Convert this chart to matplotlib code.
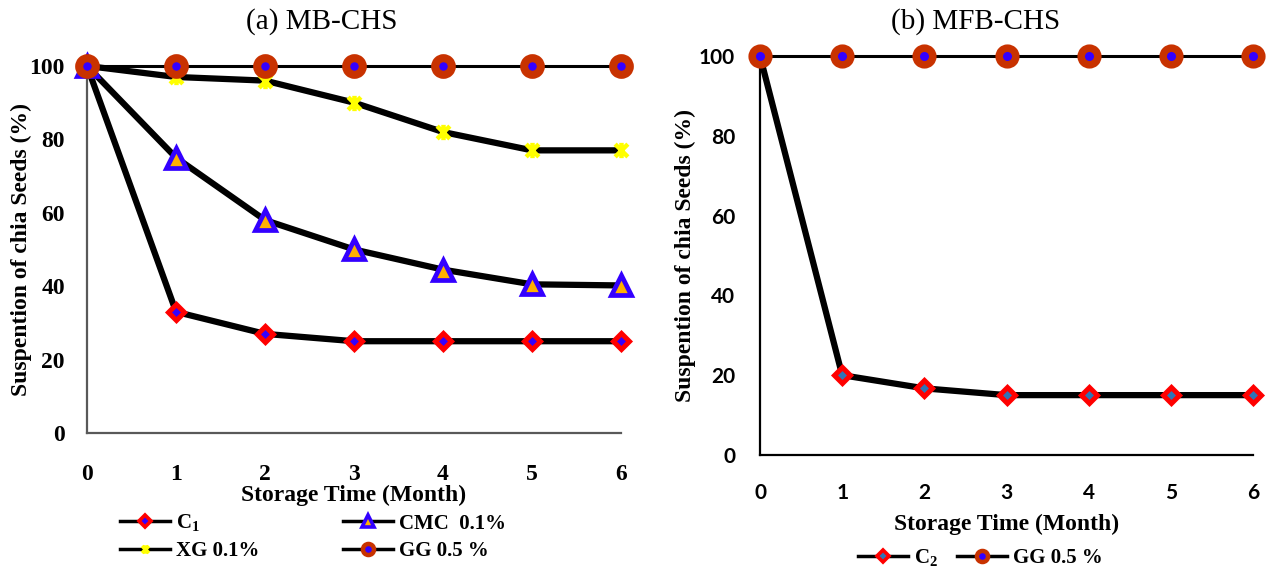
import matplotlib.pyplot as plt
from matplotlib.path import Path
from matplotlib.lines import Line2D

plt.rcParams['font.family'] = ['Liberation Serif', 'DejaVu Serif']
plt.rcParams['mathtext.fontset'] = 'custom'
plt.rcParams['mathtext.rm'] = 'Liberation Serif:bold'
plt.rcParams['mathtext.bf'] = 'Liberation Serif:bold'

months = [0, 1, 2, 3, 4, 5, 6]

# (a) MB-CHS
c1 = [100, 33, 27, 25, 25, 25, 25]
cmc = [100, 75, 58, 50, 44.5, 40.5, 40.2]
xg = [100, 97, 96, 90, 82, 77, 77]
gg_a = [100, 100, 100, 100, 100, 100, 100]

# (b) MFB-CHS
c2 = [100, 20, 16.7, 15, 15, 15, 15]
gg_b = [100, 100, 100, 100, 100, 100, 100]

yticks = [0, 20, 40, 60, 80, 100]

# excel-like star marker: X plus vertical bar
star = Path([(-1, -1), (1, 1), (-1, 1), (1, -1), (0, -1.2), (0, 1.2)],
            [Path.MOVETO, Path.LINETO, Path.MOVETO, Path.LINETO, Path.MOVETO, Path.LINETO])

blue = '#3300FF'
red = '#FF0000'
brown = '#C83200'
orange = '#FFB000'
yellow = '#FFFF00'

fig = plt.figure(figsize=(12.69, 5.70), dpi=100)

# ---------- left panel ----------
ax1 = fig.add_axes([0.0686, 0.2404, 0.4208, 0.6439])
ax1.plot(months, c1, color='k', lw=4.5, marker='D', ms=8, mfc=blue, mec=red, mew=3.6,
         clip_on=False, zorder=3)
ax1.plot(months, cmc, color='k', lw=4.5, marker='^', ms=14, mfc=orange, mec=blue, mew=3.4,
         clip_on=False, zorder=3)
ax1.plot(months, xg, color='k', lw=4.5, marker=star, ms=11, mfc='none', mec=yellow, mew=3.2,
         clip_on=False, zorder=3)
ax1.plot(months, gg_a, color='k', lw=2.2, marker='o', ms=12, mfc=blue, mec=brown, mew=5.8,
         clip_on=False, zorder=4)
ax1.set_xlim(0, 6)
ax1.set_ylim(0, 100)
ax1.set_xticks(months)
ax1.set_yticks(yticks)
for s in ['top', 'right']:
    ax1.spines[s].set_visible(False)
for s in ['left', 'bottom']:
    ax1.spines[s].set_color('#595959')
    ax1.spines[s].set_linewidth(1.6)
ax1.tick_params(axis='x', length=0, pad=22, labelsize=17)
ax1.tick_params(axis='y', length=0, pad=16, labelsize=17)
for lb in ax1.get_xticklabels() + ax1.get_yticklabels():
    lb.set_fontweight('bold')
ax1.set_xlabel('Storage Time (Month)', fontsize=17, fontweight='bold', labelpad=0)
ax1.set_ylabel('Suspention of chia Seeds (%)', fontsize=17, fontweight='bold', labelpad=-2)
fig.text(322 / 1269, 1 - 22 / 570, '(a) MB-CHS', fontsize=21, ha='center', va='center')

# legend proxies (column-major order for 2 columns)
h_c1 = Line2D([], [], color='k', lw=2.5, marker='D', ms=6, mfc=blue, mec=red, mew=2.6)
h_cmc = Line2D([], [], color='k', lw=2.5, marker='^', ms=9, mfc=orange, mec=blue, mew=2.6)
h_xg = Line2D([], [], color='k', lw=2.5, marker=star, ms=6, mfc='none', mec=yellow, mew=2.6)
h_gga = Line2D([], [], color='k', lw=2.5, marker='o', ms=8, mfc=blue, mec=brown, mew=3.2)
fig.legend(handles=[h_c1, h_xg, h_cmc, h_gga], labels=['C$_1$', 'XG 0.1%', 'CMC  0.1%', 'GG 0.5 %'],
           loc='center left', ncol=2, frameon=False,
           bbox_to_anchor=(120 / 1269, 1 - 537 / 570), prop={'size': 15, 'weight': 'bold'},
           handlelength=2.4, handletextpad=0.3, columnspacing=4.0,
           labelspacing=0.35, borderaxespad=0, borderpad=0)

# ---------- right panel ----------
ax2 = fig.add_axes([0.5989, 0.2018, 0.3885, 0.7])
ax2.plot(months, c2, color='k', lw=4.5, marker='D', ms=8, mfc='#2E75B6', mec=red, mew=3.6,
         clip_on=False, zorder=3)
ax2.plot(months, gg_b, color='k', lw=2.2, marker='o', ms=12, mfc=blue, mec=brown, mew=5.4,
         clip_on=False, zorder=4)
ax2.set_xlim(0, 6)
ax2.set_ylim(0, 100)
ax2.set_xticks(months)
ax2.set_yticks(yticks)
for s in ['top', 'right']:
    ax2.spines[s].set_visible(False)
for s in ['left', 'bottom']:
    ax2.spines[s].set_color('k')
    ax2.spines[s].set_linewidth(1.6)
ax2.tick_params(axis='x', length=0, pad=20, labelsize=15)
ax2.tick_params(axis='y', length=0, pad=18, labelsize=15)
for lb in ax2.get_xticklabels() + ax2.get_yticklabels():
    lb.set_fontweight('bold')
    lb.set_family('Lato')
ax2.set_xlabel('Storage Time (Month)', fontsize=17, fontweight='bold', labelpad=8)
ax2.set_ylabel('Suspention of chia Seeds (%)', fontsize=17, fontweight='bold', labelpad=2)
fig.text(976 / 1269, 1 - 22 / 570, '(b) MFB-CHS', fontsize=21, ha='center', va='center')

h_c2 = Line2D([], [], color='k', lw=2.5, marker='D', ms=6, mfc='#2E75B6', mec=red, mew=2.6)
h_ggb = Line2D([], [], color='k', lw=2.5, marker='o', ms=8, mfc=blue, mec=brown, mew=3.2)
fig.legend(handles=[h_c2, h_ggb], labels=['C$_2$', 'GG 0.5 %'], loc='center left', ncol=2,
           frameon=False, bbox_to_anchor=(858 / 1269, 1 - 558 / 570),
           prop={'size': 15, 'weight': 'bold'},
           handlelength=2.4, handletextpad=0.3, columnspacing=0.9,
           borderaxespad=0, borderpad=0)

fig.savefig('out.png', dpi=100)
